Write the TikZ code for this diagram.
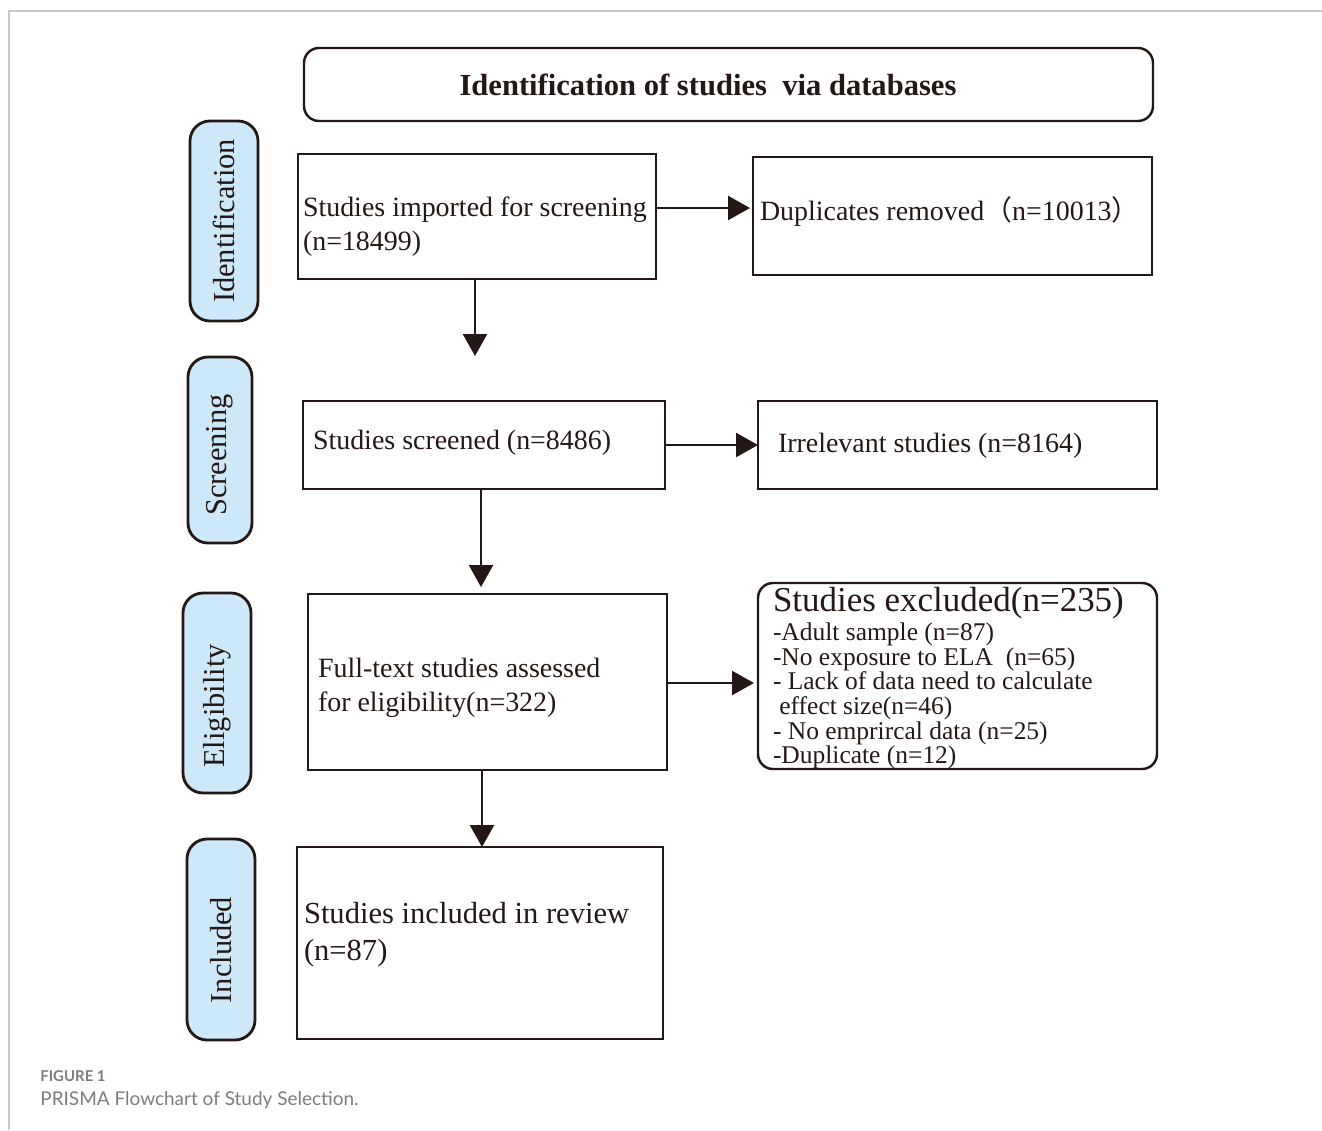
\documentclass[tikz,border=0pt]{standalone}
\usepackage{fontspec}
\setmainfont{Liberation Serif}
\newfontfamily\cjk{Noto Sans CJK SC}
\newfontfamily\capfont{Lato}
\usetikzlibrary{arrows.meta}
\definecolor{ink}{HTML}{231815}
\definecolor{phasefill}{HTML}{CDE9F9}
\definecolor{capgrey}{HTML}{7D7D7D}
\definecolor{framegrey}{HTML}{C8C8C8}
\begin{document}
\begin{tikzpicture}[x=0.02cm,y=-0.02cm,
  box/.style={draw=ink, line width=1.4pt, inner sep=0pt, outer sep=0pt, anchor=north west},
  rbox/.style={box, rounded corners=0.3cm},
  phase/.style={draw=ink, fill=phasefill, line width=1.6pt, rounded corners=0.4cm, rotate=90,
     inner sep=0pt, outer sep=0pt, text=ink, font=\fontsize{17.3}{20}\selectfont},
  txt/.style={inner sep=0pt, outer sep=0pt, text=ink, align=left, font=\fontsize{15.9}{19.3}\selectfont},
  arr/.style={draw=ink, line width=1.4pt, -{Triangle[length=0.44cm,width=0.48cm]}}
]
\useasboundingbox (0,0) rectangle (1322,1130);
\draw[framegrey, line width=0.6pt] (9,1130) -- (9,11) -- (1322,11);

% title
\node[rbox, minimum width={849*0.02cm}, minimum height={73*0.02cm}] (title) at (304,48) {};
\node[txt, anchor=base, font=\fontsize{17.4}{20}\selectfont\bfseries] (titlet) at (708,95)
  {Identification of studies\ \ via databases};

% phase labels
\node[phase, minimum width={200*0.02cm}, minimum height={68*0.02cm}] (pid) at (224,221) {Identification};
\node[phase, minimum width={186*0.02cm}, minimum height={64*0.02cm}] (psc) at (220,450) {Screening\hspace*{0.2cm}};
\node[phase, minimum width={200*0.02cm}, minimum height={68*0.02cm}] (pel) at (217,693) {Eligibility\hspace*{0.52cm}};
\node[phase, minimum width={201*0.02cm}, minimum height={68*0.02cm}] (pin) at (221,939.5) {Included\hspace*{0.42cm}};

% main boxes
\node[box, minimum width={358*0.02cm}, minimum height={125*0.02cm}] (b1) at (298,154) {};
\node[txt, anchor=north west] (b1t) at (303,197) {Studies imported for screening\\(n=18499)};

\node[box, minimum width={399*0.02cm}, minimum height={118*0.02cm}] (dup) at (753,157) {};
\node[txt, anchor=base west] (dupt) at (760,220) {Duplicates removed{\cjk（}n=10013{\cjk）}};

\node[box, minimum width={362*0.02cm}, minimum height={88*0.02cm}] (b2) at (303,401) {};
\node[txt, anchor=base west] (b2t) at (313,449) {Studies screened (n=8486)};

\node[box, minimum width={399*0.02cm}, minimum height={88*0.02cm}] (irr) at (758,401) {};
\node[txt, anchor=base west] (irrt) at (778,452) {Irrelevant studies (n=8164)};

\node[box, minimum width={359*0.02cm}, minimum height={176*0.02cm}] (b3) at (308,594) {};
\node[txt, anchor=north west] (b3t) at (318,658) {Full-text studies assessed\\for eligibility(n=322)};

\node[rbox, minimum width={399*0.02cm}, minimum height={186*0.02cm}] (exc) at (758,583) {};
\node[txt, anchor=north west, font=\fontsize{14.5}{14}\selectfont] (exct) at (773,587)
  {{\fontsize{19.9}{20}\selectfont Studies excluded(n=235)}\\[1.5pt]
   -Adult sample (n=87)\\
   -No exposure to ELA\ \ (n=65)\\
   - Lack of data need to calculate\\
   \ effect size(n=46)\\
   - No emprircal data (n=25)\\
   -Duplicate (n=12)};

\node[box, minimum width={366*0.02cm}, minimum height={192*0.02cm}] (b4) at (297,847) {};
\node[txt, anchor=north west, font=\fontsize{17.4}{21}\selectfont] (b4t) at (304,902) {Studies included in review\\(n=87)};

% arrows
\coordinate (t1) at (475,356);
\draw[arr] (b1.south -| t1) -- (t1);
\coordinate (t2) at (481,587);
\draw[arr] (b2.south -| t2) -- (t2);
\coordinate (t3) at (482,847);
\draw[arr] (b3.south -| t3) -- (t3);
\coordinate (h1) at (750,208);
\draw[arr] (b1.east |- h1) -- (h1);
\coordinate (h2) at (758,445);
\draw[arr] (b2.east |- h2) -- (h2);
\coordinate (h3) at (754,683);
\draw[arr] (b3.east |- h3) -- (h3);

% caption
\node[inner sep=0pt, anchor=base west, text=capgrey, font=\capfont\bfseries\fontsize{8.5}{10}\selectfont] (fig) at (40,1081) {FIGURE 1};
\node[inner sep=0pt, anchor=base west, text=capgrey, font=\capfont\fontsize{10.8}{13}\selectfont] (cap) at (40,1105) {PRISMA Flowchart of Study Selection.};
\end{tikzpicture}
\end{document}
